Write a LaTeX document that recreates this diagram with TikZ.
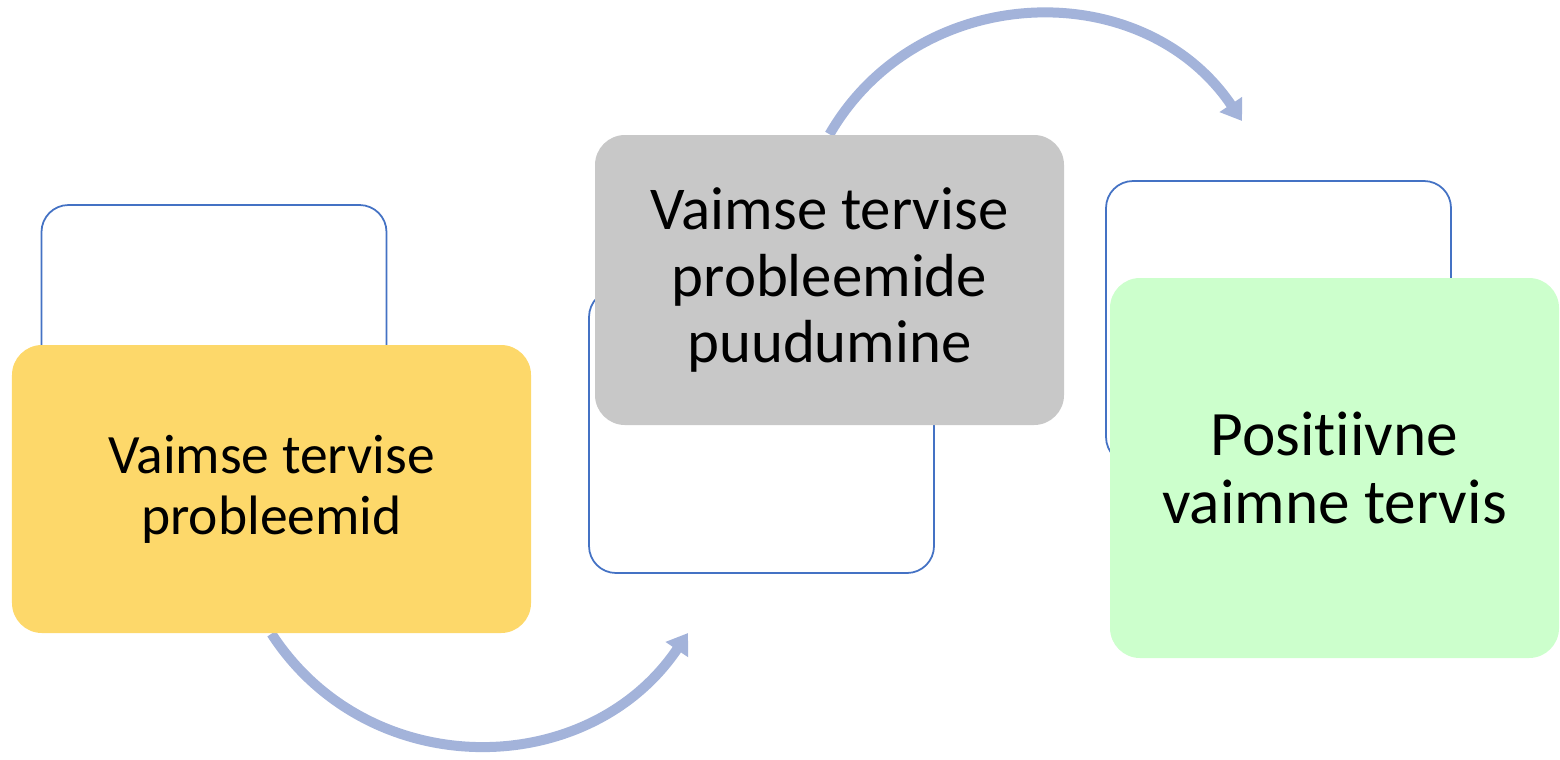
\documentclass[tikz,border=0pt]{standalone}
\usepackage{fontspec}
\setmainfont[Ligatures=NoCommon]{Carlito}
\usetikzlibrary{arrows.meta,backgrounds}

\definecolor{frameblue}{HTML}{4472C4}
\definecolor{boxyellow}{HTML}{FDD86A}
\definecolor{boxgray}{HTML}{C8C8C8}
\definecolor{boxgreen}{HTML}{CCFFCC}
\definecolor{arcblue}{HTML}{A3B3DA}

\tikzset{
	framebox/.style={draw=frameblue, line width=0.5pt, fill=white,
		rounded corners=0.27cm, minimum width=3.45cm, minimum height=2.83cm},
	phasebox/.style={rounded corners=0.3cm, align=center, inner sep=0pt},
	flowarrow/.style={draw=arcblue, line width=0.1cm,
		-{Triangle[length=0.2cm, width=0.26cm]}}
}

\begin{document}
\begin{tikzpicture}
			\useasboundingbox (0,0) rectangle (15.6,-7.59);
			% empty frames behind the coloured boxes
			\node[framebox] (frame1) at (2.14,-3.465) {};
			\node[framebox] (frame2) at (7.615,-4.315) {};
			\node[framebox] (frame3) at (12.785,-3.225) {};
			\node[phasebox, fill=boxyellow, minimum width=5.19cm, minimum height=2.88cm,
				font=\fontsize{15.8}{17.3}\selectfont] (problems) at (2.715,-4.89)
				{Vaimse tervise\\probleemid};
			\node[phasebox, fill=boxgray, minimum width=4.69cm, minimum height=2.90cm,
				font=\fontsize{17.3}{19}\selectfont] (absence) at (8.295,-2.80)
				{Vaimse tervise\\probleemide\\puudumine};
			\node[phasebox, fill=boxgreen, minimum width=4.49cm, minimum height=3.80cm,
				font=\fontsize{18}{19.2}\selectfont] (positive) at (13.345,-4.68)
				{Positiivne\\vaimne tervis};
			\coordinate (tip1) at (6.88,-6.33);
			\coordinate (tip2) at (12.42,-1.21);
			\begin{scope}[on background layer]
				\draw[flowarrow] (problems.south) to[out=-57, in=-124, looseness=1.1] (tip1);
				\draw[flowarrow] (absence.north) to[out=60, in=124, looseness=1.1] (tip2);
			\end{scope}
		\end{tikzpicture}
\end{document}
